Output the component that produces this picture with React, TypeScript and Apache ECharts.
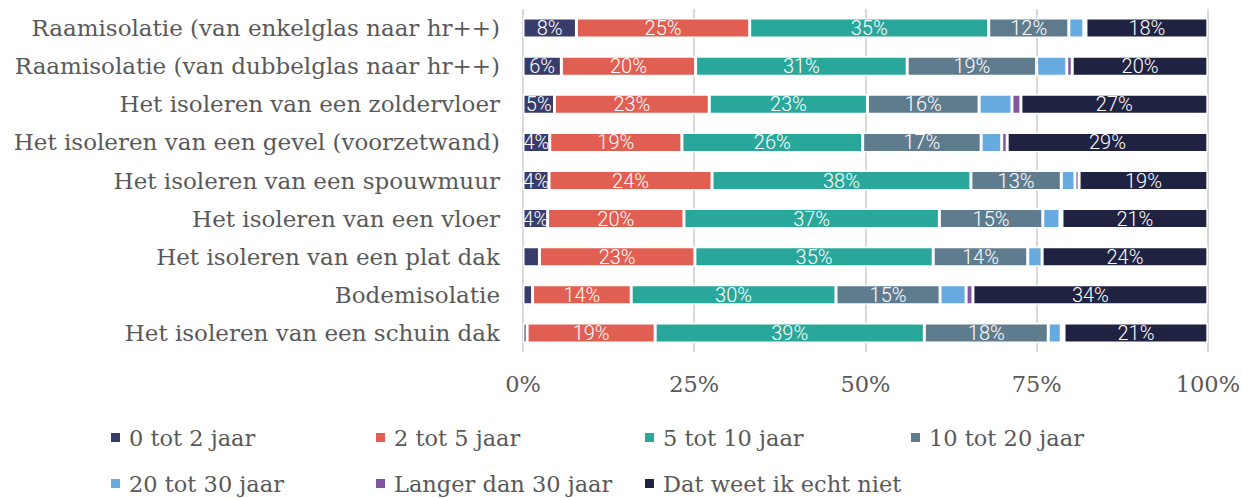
import React, { useEffect, useRef } from "react";
import * as echarts from "echarts";

const categories = [
  "Raamisolatie (van enkelglas naar hr++)",
  "Raamisolatie (van dubbelglas naar hr++)",
  "Het isoleren van een zoldervloer",
  "Het isoleren van een gevel (voorzetwand)",
  "Het isoleren van een spouwmuur",
  "Het isoleren van een vloer",
  "Het isoleren van een plat dak",
  "Bodemisolatie",
  "Het isoleren van een schuin dak",
];

const seriesNames = [
  "0 tot 2 jaar",
  "2 tot 5 jaar",
  "5 tot 10 jaar",
  "10 tot 20 jaar",
  "20 tot 30 jaar",
  "Langer dan 30 jaar",
  "Dat weet ik echt niet",
];

const v0tot2 = [7.8, 5.6, 4.6, 3.9, 3.8, 3.6, 2.4, 1.4, 0.6];
const v2tot5 = [25.3, 19.6, 22.6, 19.3, 23.8, 19.9, 22.7, 14.4, 18.7];
const v5tot10 = [34.9, 30.9, 23.1, 26.4, 37.8, 37.3, 34.8, 29.9, 39.3];
const v10tot20 = [11.7, 18.9, 16.3, 17.3, 13.2, 15.1, 13.8, 15.2, 18.1];
const v20tot30 = [2.2, 4.4, 4.8, 3.0, 2.0, 2.5, 2.1, 3.8, 1.9];
const vLanger30 = [0.3, 0.8, 1.3, 0.8, 0.6, 0.3, 0.0, 1.0, 0.4];
const vWeetNiet = [17.8, 19.8, 27.3, 29.3, 18.8, 21.3, 24.2, 34.3, 21.0];

const xTicks = [0, 25, 50, 75, 100];

const seriesValues = [v0tot2, v2tot5, v5tot10, v10tot20, v20tot30, vLanger30, vWeetNiet];
const colors = ["#383c6b", "#e05e52", "#2aa79b", "#5f7c8f", "#66aadf", "#7e559e", "#1f2240"];
const labelled = [true, true, true, true, false, false, true];

const SERIF = "'DejaVu Serif', serif";
const LABELFONT = "Roboto, sans-serif";

const legendCols = [109, 374, 643, 909];
const legendRows = [426, 472];

export default function App() {
  const ref = useRef<HTMLDivElement>(null);
  useEffect(() => {
    document.body.style.margin = "0";
    const chart = echarts.init(ref.current!, null, { renderer: "svg" });
    const legends = seriesNames.map((name, i) => ({
      left: legendCols[i % 4],
      top: legendRows[Math.floor(i / 4)],
      padding: 0,
      icon: "rect",
      itemWidth: 11,
      itemHeight: 11,
      data: [name],
      textStyle: { fontFamily: SERIF, fontSize: 22.5, color: "#595959", padding: [0, 0, 0, 3] },
    }));
    chart.setOption({
      animation: false,
      backgroundColor: "#ffffff",
      color: colors,
      grid: { left: 523, right: 35, top: 9, height: 343 },
      xAxis: {
        type: "value",
        min: xTicks[0],
        max: xTicks[xTicks.length - 1],
        interval: 25,
        axisLine: { show: false },
        axisTick: { show: false },
        splitLine: { show: true, lineStyle: { color: "#d9d9d9", width: 2 } },
        axisLabel: {
          formatter: "{value}%",
          fontFamily: SERIF,
          fontSize: 22.5,
          color: "#595959",
          margin: 20,
        },
      },
      yAxis: {
        type: "category",
        inverse: true,
        data: categories,
        axisLine: { show: false },
        axisTick: { show: false },
        axisLabel: { fontFamily: SERIF, fontSize: 23, color: "#595959", margin: 23 },
      },
      legend: legends,
      series: seriesNames.map((name, i) => ({
        name,
        type: "bar",
        stack: "total",
        barWidth: 20,
        data: seriesValues[i],
        itemStyle: { color: colors[i], borderColor: "#ffffff", borderWidth: 1.5 },
        label: {
          show: labelled[i],
          position: "inside",
          color: "#ffffff",
          fontFamily: LABELFONT,
          fontWeight: 300,
          fontSize: 20,
          formatter: (p: any) => (p.value >= 3.5 ? Math.round(p.value) + "%" : ""),
        },
      })),
    });
    return () => chart.dispose();
  }, []);
  return <div ref={ref} style={{ width: 1243, height: 498 }} />;
}
